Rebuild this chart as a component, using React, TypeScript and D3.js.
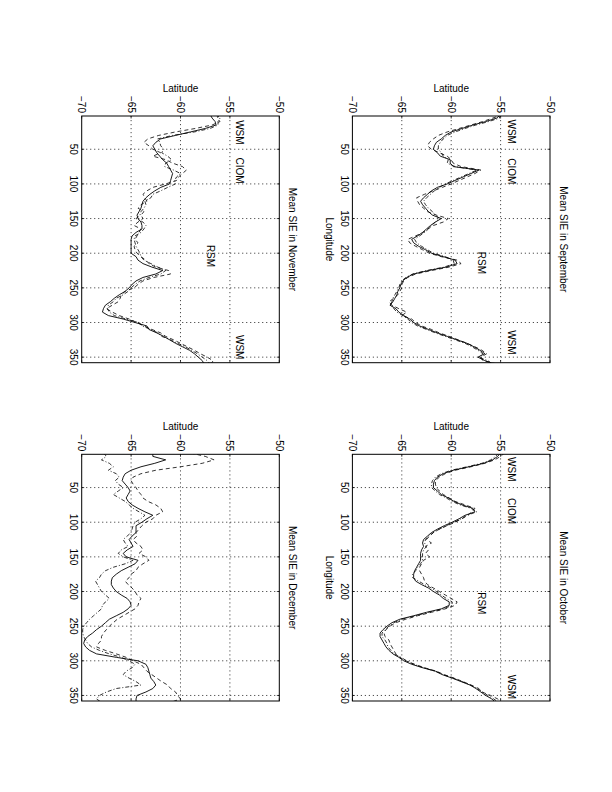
import * as d3 from 'd3';

// longitude samples (deg E)
const LON = [
  0, 5, 10, 15, 20, 25, 30, 35, 40, 45, 50, 55, 60, 65, 70, 75, 80, 85, 90, 95,
  100, 105, 110, 115, 120, 125, 130, 135, 140, 145, 150, 155, 160, 165, 170, 175, 180, 185, 190, 195,
  200, 205, 210, 215, 220, 225, 230, 235, 240, 245, 250, 255, 260, 265, 270, 275, 280, 285, 290, 295,
  300, 305, 310, 315, 320, 325, 330, 335, 340, 345, 350, 355, 360,
];

const LAT_TICKS = [-70, -65, -60, -55, -50];
const LON_TICKS = [50, 100, 150, 200, 250, 300, 350];

// ---- September ----
const SEP_A = [
  -55.0, -55.4, -56.5, -57.8, -58.9, -60.0, -60.6, -61.0, -61.5, -61.7,
  -61.8, -61.4, -61.1, -60.1, -60.1, -59.8, -57.2, -58.0, -58.8, -59.6,
  -60.4, -61.4, -62.0, -62.4, -62.8, -63.1, -62.9, -62.6, -62.3, -61.9,
  -61.0, -61.6, -62.1, -62.5, -62.9, -63.4, -64.0, -63.8, -63.3, -62.6,
  -62.0, -60.8, -59.6, -59.4, -60.5, -62.3, -63.8, -64.5, -64.9, -65.1,
  -65.2, -65.4, -65.5, -65.7, -65.9, -66.2, -65.6, -65.3, -64.8, -64.2,
  -63.8, -63.2, -62.3, -61.4, -60.4, -59.4, -58.4, -57.7, -57.1, -56.6,
  -57.3, -56.6, -55.6,
];
const SEP_B = [
  -54.8, -55.8, -56.8, -58.0, -59.2, -60.4, -61.3, -61.8, -62.2, -62.4,
  -62.0, -61.2, -60.4, -60.0, -59.8, -59.0, -57.0, -57.6, -58.4, -59.2,
  -60.0, -60.9, -61.8, -62.7, -63.5, -63.4, -63.2, -62.8, -62.4, -61.5,
  -60.3, -60.8, -61.8, -62.4, -62.8, -63.6, -64.4, -64.2, -63.6, -62.9,
  -62.2, -61.0, -59.4, -59.0, -60.2, -62.0, -63.6, -64.4, -64.8, -65.0,
  -65.0, -65.2, -65.4, -65.8, -66.3, -66.0, -65.3, -64.5, -65.0, -64.0,
  -63.6, -63.0, -62.0, -61.2, -60.2, -59.3, -58.4, -57.6, -56.9, -56.4,
  -57.0, -56.8, -55.3,
];
const SEP_C = [
  -55.2, -55.1, -56.2, -57.5, -58.6, -59.6, -60.4, -60.8, -61.1, -61.3,
  -61.3, -61.0, -60.8, -60.3, -60.4, -59.6, -57.4, -58.2, -59.0, -59.8,
  -60.6, -61.2, -61.7, -62.1, -62.5, -62.8, -62.6, -62.3, -61.9, -61.6,
  -61.2, -61.6, -62.0, -62.3, -62.7, -63.2, -63.7, -63.5, -63.0, -62.4,
  -61.8, -60.6, -59.8, -59.7, -60.7, -62.5, -63.9, -64.6, -65.0, -65.2,
  -65.3, -65.5, -65.7, -65.9, -66.0, -66.1, -65.8, -65.5, -64.9, -64.4,
  -64.0, -63.4, -62.5, -61.6, -60.6, -59.6, -58.6, -57.9, -57.3, -56.8,
  -57.2, -56.3, -55.8,
];

// ---- October ----
const OCT_A = [
  -55.0, -55.3, -55.8, -56.7, -58.2, -59.8, -60.8, -61.4, -61.7, -61.8,
  -61.8, -61.4, -61.0, -60.3, -59.7, -58.9, -57.8, -57.6, -58.6, -59.2,
  -59.9, -60.7, -61.4, -62.0, -62.4, -62.8, -62.9, -62.8, -63.0, -63.1,
  -63.1, -63.1, -63.3, -63.5, -63.7, -63.8, -63.8, -63.6, -63.0, -62.3,
  -61.8, -61.2, -60.8, -60.2, -60.2, -61.0, -62.5, -63.8, -65.2, -66.0,
  -66.5, -66.9, -67.2, -67.2, -67.0, -66.8, -66.6, -66.3, -65.9, -65.3,
  -64.8, -64.0, -62.9, -61.6, -60.9, -59.9, -59.0, -58.1, -57.5, -57.0,
  -56.5, -55.9, -55.5,
];
const OCT_B = [
  -54.6, -55.0, -55.6, -56.6, -58.0, -59.6, -60.6, -61.2, -61.6, -61.6,
  -61.5, -61.2, -60.8, -60.2, -59.6, -58.6, -57.6, -57.9, -58.3, -58.9,
  -59.6, -60.4, -61.2, -61.8, -62.2, -62.5, -62.0, -62.6, -62.3, -62.6,
  -62.2, -62.8, -63.0, -63.2, -63.2, -63.0, -62.8, -62.7, -62.4, -61.8,
  -61.2, -60.6, -60.0, -59.4, -59.6, -60.6, -62.0, -63.4, -64.6, -65.6,
  -66.2, -66.6, -66.8, -66.7, -66.3, -66.2, -66.0, -65.8, -65.6, -65.2,
  -64.6, -63.7, -62.7, -61.5, -60.7, -59.7, -58.8, -58.0, -57.2, -56.9,
  -56.0, -55.3, -54.8,
];
const OCT_C = [
  -55.2, -55.5, -56.0, -56.9, -58.4, -60.0, -61.0, -61.6, -61.9, -62.0,
  -62.0, -61.6, -61.2, -60.5, -59.9, -59.1, -58.0, -57.4, -58.4, -59.0,
  -59.7, -60.5, -61.2, -61.8, -62.3, -62.6, -62.7, -62.5, -62.8, -62.9,
  -62.9, -62.9, -63.1, -63.4, -63.6, -63.9, -63.9, -63.3, -62.7, -62.0,
  -61.5, -61.0, -60.5, -59.9, -59.9, -60.8, -62.3, -63.6, -65.0, -65.8,
  -66.3, -66.7, -67.0, -67.0, -66.7, -66.5, -66.4, -66.1, -65.8, -65.1,
  -64.5, -63.8, -62.8, -61.6, -60.8, -59.8, -58.9, -58.0, -57.4, -56.8,
  -56.3, -55.7, -55.2,
];

// ---- November ----
const NOV_A = [
  -57.0, -56.8, -56.5, -56.4, -57.5, -59.0, -60.5, -62.0, -62.5, -62.8,
  -62.6, -62.4, -62.1, -61.8, -61.4, -61.2, -61.0, -60.8, -60.9, -61.0,
  -61.1, -62.0, -62.6, -63.1, -63.5, -63.8, -63.9, -64.0, -64.2, -64.4,
  -64.3, -64.0, -63.9, -63.9, -64.5, -64.9, -65.0, -65.0, -65.0, -65.0,
  -65.0, -64.5, -64.3, -63.8, -62.9, -61.8, -62.5, -63.8, -64.5, -64.9,
  -65.2, -65.6, -66.2, -66.7, -67.1, -67.6, -67.8, -67.9, -67.3, -65.8,
  -64.6, -63.4, -63.2, -62.4, -61.7, -61.1, -60.5, -59.8, -59.1, -58.6,
  -58.2, -57.8, -57.6,
];
const NOV_B = [
  -56.0, -56.3, -56.0, -56.8, -58.5, -60.5, -62.2, -63.3, -63.7, -63.2,
  -62.8, -62.0, -62.8, -61.5, -60.8, -59.8, -59.4, -59.8, -60.2, -60.4,
  -61.5, -62.8, -63.4, -63.8, -63.6, -63.4, -64.0, -64.3, -63.7, -64.0,
  -63.8, -64.3, -64.7, -64.0, -64.2, -64.4, -64.6, -64.3, -64.7, -64.6,
  -64.4, -64.0, -63.5, -63.2, -62.5, -61.2, -61.0, -62.7, -63.8, -64.3,
  -64.7, -65.6, -66.0, -66.1, -66.3, -66.9, -67.5, -66.9, -66.2, -65.2,
  -64.4, -63.7, -62.9, -62.0, -61.5, -60.7, -60.0, -59.3, -58.6, -58.0,
  -57.3, -56.7, -56.9,
];
const NOV_C = [
  -56.5, -56.0, -56.2, -56.2, -57.0, -58.6, -60.8, -62.3, -62.1, -62.0,
  -61.7, -61.9, -61.3, -60.9, -61.5, -61.6, -60.7, -60.0, -60.4, -60.6,
  -60.5, -61.3, -62.0, -62.8, -63.0, -63.6, -63.5, -63.7, -64.0, -64.1,
  -64.5, -63.8, -63.5, -63.7, -64.0, -64.6, -64.7, -64.6, -64.5, -64.3,
  -64.1, -64.0, -63.7, -63.0, -62.3, -61.5, -62.0, -63.2, -64.1, -64.6,
  -65.0, -65.3, -65.8, -66.5, -66.8, -67.3, -67.4, -67.2, -66.7, -65.5,
  -64.2, -63.9, -63.0, -62.3, -61.9, -61.0, -60.3, -59.5, -58.9, -58.3,
  -57.8, -57.3, -57.0,
];

// ---- December ----
const DEC_A = [
  -62.8, -62.8, -61.5, -62.6, -64.0, -65.0, -65.6, -65.8, -65.9, -65.6,
  -65.3, -65.1, -65.3, -65.5, -65.3, -64.9, -64.3, -63.6, -62.8, -63.4,
  -63.9, -64.5, -64.5, -64.5, -64.9, -65.2, -65.0, -64.8, -65.4, -65.8,
  -65.5, -64.3, -64.6, -65.3, -66.0, -66.5, -66.9, -67.0, -67.0, -66.8,
  -66.5, -66.0, -65.4, -65.1, -65.0, -65.3, -65.8, -66.5, -67.2, -67.6,
  -68.0, -68.5, -68.9, -69.4, -69.7, -69.8, -69.6, -69.2, -68.5, -66.5,
  -64.3, -63.5, -63.3, -63.2, -63.1, -63.0, -62.7, -62.5, -62.8, -63.5,
  -64.4, -64.5, -64.5,
];
const DEC_B = [
  -59.0, -57.5, -56.6, -57.8, -60.0, -62.5, -64.0, -64.8, -65.0, -64.8,
  -64.5, -64.3, -64.0, -63.8, -63.3, -62.5, -62.0, -61.8, -62.5, -62.8,
  -63.5, -63.9, -64.2, -64.5, -64.4, -64.8, -64.5, -64.0, -63.8, -64.2,
  -63.5, -63.2, -63.8, -64.3, -64.5, -65.0, -65.2, -65.6, -65.3, -64.9,
  -64.6, -64.4, -64.0, -64.2, -64.3, -64.6, -65.2, -65.8, -66.4, -66.8,
  -67.2, -67.5, -67.8, -68.0, -68.0, -68.3, -68.5, -67.6, -66.5, -65.5,
  -64.8, -64.0, -63.7, -63.4, -62.9, -62.4, -61.9, -61.3, -61.0, -60.5,
  -60.3, -60.0, -61.0,
];
const DEC_C = [
  -67.8, -67.5, -68.0, -67.2, -66.8, -67.3, -66.5, -66.2, -66.6, -66.3,
  -65.8, -66.3, -66.8, -66.2, -65.6, -65.2, -64.8, -64.2, -63.6, -64.0,
  -64.6, -64.8, -64.9, -65.0, -65.4, -65.8, -65.6, -65.3, -66.0, -66.3,
  -65.8, -64.8, -65.6, -66.8, -67.6, -68.0, -68.2, -68.6, -68.4, -68.2,
  -68.0, -67.6, -67.2, -67.6, -67.9, -68.0, -68.4, -68.8, -69.2, -69.5,
  -69.8, -69.9, -69.9, -69.8, -69.6, -69.4, -69.0, -68.2, -67.2, -66.0,
  -65.2, -64.6, -64.9, -65.5, -65.8, -65.2, -64.5, -64.0, -66.5, -67.5,
  -68.2, -68.5, -68.0,
];

// the figure was printed landscape and turned onto the portrait page
const PW = 246.7;
const PH = 197.6;
const FONT = "'Liberation Sans', Arial, Helvetica, sans-serif";

const xS = d3.scaleLinear().domain([2, 358]).range([0, PW]);
const yS = d3.scaleLinear().domain([-70, -50]).range([PH, 0]);

type Note = { text: string; lon: number; lat: number };
type PanelDef = {
  id: string;
  title: string;
  x0: number;
  y0: number;
  a: number[];
  b: number[];
  c: number[];
  xlabel: boolean;
  notes: Note[];
};

const PANELS: PanelDef[] = [
  {
    id: 'sep', title: 'Mean SIE in September', x0: 116, y0: 62,
    a: SEP_A, b: SEP_B, c: SEP_C, xlabel: true,
    notes: [
      { text: 'WSM', lon: 7, lat: -54.3 },
      { text: 'CIOM', lon: 63, lat: -54.3 },
      { text: 'RSM', lon: 198, lat: -57.3 },
      { text: 'WSM', lon: 311, lat: -54.3 },
    ],
  },
  {
    id: 'oct', title: 'Mean SIE in October', x0: 454.3, y0: 62,
    a: OCT_A, b: OCT_B, c: OCT_C, xlabel: true,
    notes: [
      { text: 'WSM', lon: 6, lat: -54.3 },
      { text: 'CIOM', lon: 65, lat: -54.3 },
      { text: 'RSM', lon: 201, lat: -57.3 },
      { text: 'WSM', lon: 320, lat: -54.3 },
    ],
  },
  {
    id: 'nov', title: 'Mean SIE in November', x0: 116, y0: 332.7,
    a: NOV_A, b: NOV_B, c: NOV_C, xlabel: false,
    notes: [
      { text: 'WSM', lon: 8, lat: -54.4 },
      { text: 'CIOM', lon: 62, lat: -54.4 },
      { text: 'RSM', lon: 188, lat: -57.3 },
      { text: 'WSM', lon: 318, lat: -54.4 },
    ],
  },
  {
    id: 'dec', title: 'Mean SIE in December', x0: 454.3, y0: 332.7,
    a: DEC_A, b: DEC_B, c: DEC_C, xlabel: false,
    notes: [],
  },
];

const line = d3
  .line<number>()
  .x((_, i) => xS(LON[i]))
  .y((d) => yS(d));

function Panel({ p }: { p: PanelDef }) {
  const tk = 2.5;
  return (
    <g transform={`translate(${p.x0},${p.y0})`}>
      <defs>
        <clipPath id={`clip-${p.id}`}>
          <rect x={0} y={0} width={PW} height={PH} />
        </clipPath>
      </defs>

      {/* dotted grid */}
      {LON_TICKS.map((t) => (
        <line key={`gx${t}`} x1={xS(t)} x2={xS(t)} y1={0} y2={PH}
          stroke="#000" strokeWidth={0.7} strokeDasharray="1.2,2.8" />
      ))}
      {LAT_TICKS.slice(1, -1).map((t) => (
        <line key={`gy${t}`} x1={0} x2={PW} y1={yS(t)} y2={yS(t)}
          stroke="#000" strokeWidth={0.7} strokeDasharray="1.2,2.8" />
      ))}

      {/* ticks, inside on all four sides */}
      {LON_TICKS.map((t) => (
        <g key={`tx${t}`} stroke="#000" strokeWidth={0.7}>
          <line x1={xS(t)} x2={xS(t)} y1={PH} y2={PH - tk} />
          <line x1={xS(t)} x2={xS(t)} y1={0} y2={tk} />
        </g>
      ))}
      {LAT_TICKS.map((t) => (
        <g key={`ty${t}`} stroke="#000" strokeWidth={0.7}>
          <line x1={0} x2={tk} y1={yS(t)} y2={yS(t)} />
          <line x1={PW} x2={PW - tk} y1={yS(t)} y2={yS(t)} />
        </g>
      ))}

      <g clipPath={`url(#clip-${p.id})`} fill="none" stroke="#000" strokeLinejoin="round">
        <path d={line(p.c) ?? ''} strokeWidth={0.8} strokeDasharray="4,2,1,2" />
        <path d={line(p.b) ?? ''} strokeWidth={0.8} strokeDasharray="4,3" />
        <path d={line(p.a) ?? ''} strokeWidth={0.9} />
      </g>

      <rect x={0} y={0} width={PW} height={PH} fill="none" stroke="#000" strokeWidth={1} />

      <g fontFamily={FONT} fontSize={10} fill="#000">
        {LON_TICKS.map((t) => (
          <text key={`lx${t}`} x={xS(t)} y={PH + 11.7} textAnchor="middle">{t}</text>
        ))}
        {LAT_TICKS.map((t) => (
          <text key={`ly${t}`} x={-3} y={yS(t)} dy="0.35em" textAnchor="end">
            {String(t).replace('-', '\u2212')}
          </text>
        ))}
        <text x={PW / 2} y={-10} textAnchor="middle">{p.title}</text>
        <text transform={`translate(-24,${PH / 2}) rotate(-90)`} textAnchor="middle">Latitude</text>
        {p.xlabel && (
          <text x={PW / 2} y={PH + 26.5} textAnchor="middle">Longitude</text>
        )}
        {p.notes.map((n, i) => (
          <text key={`n${i}`} x={xS(n.lon)} y={yS(n.lat)}>{n.text}</text>
        ))}
      </g>
    </g>
  );
}

export default function App() {
  return (
    <div>
      <svg
        width={612}
        height={792}
        style={{ position: 'absolute', left: 0, top: 0, background: '#fff' }}
      >
        <rect width={612} height={792} fill="#fff" />
        <g transform="translate(612,0) rotate(90)">
          {PANELS.map((p) => (
            <Panel key={p.id} p={p} />
          ))}
        </g>
      </svg>
    </div>
  );
}
